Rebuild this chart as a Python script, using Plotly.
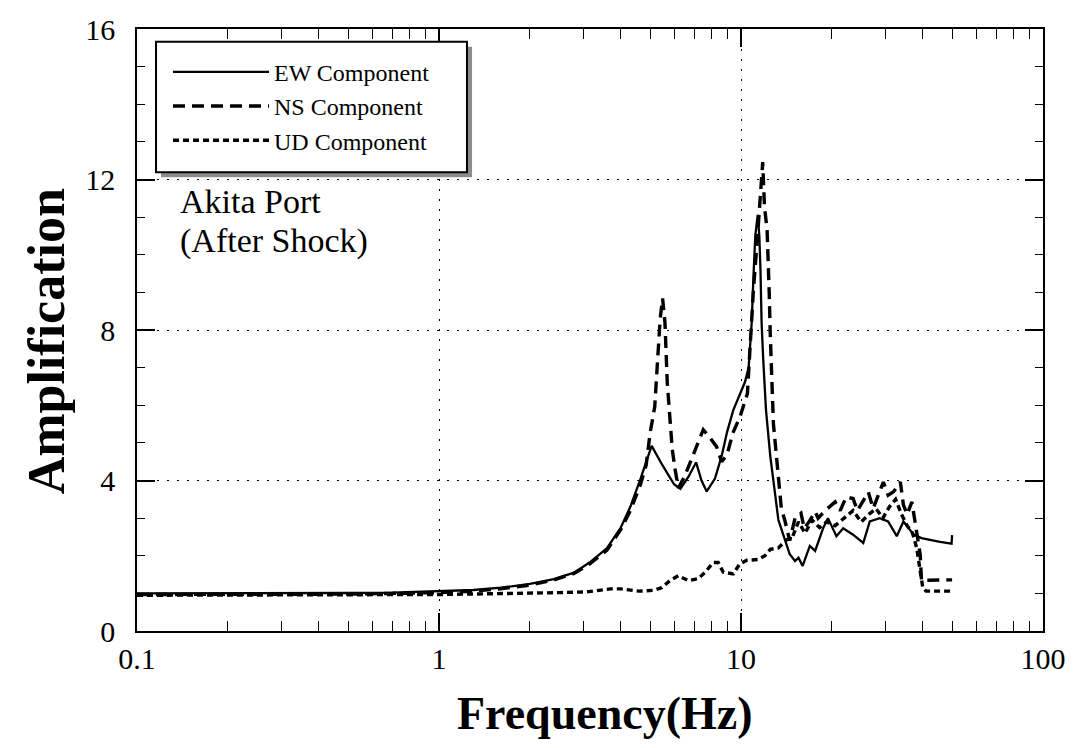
import plotly.graph_objects as go

# ---------------- data ----------------
ew_freq = [0.1, 0.2, 0.3, 0.5, 0.7, 1.0, 1.3, 1.6, 2.0, 2.4, 2.8, 3.15, 3.6, 4.0, 4.3, 4.65,
           5.06, 5.5, 6.0, 6.3, 6.7, 7.1, 7.4, 7.7, 8.2, 8.63, 9.0, 9.43, 10.0, 10.3, 10.6,
           10.85, 11.0, 11.15, 11.36, 11.5, 11.6, 11.7, 11.85, 12.1, 12.5, 12.9, 13.3, 13.8,
           14.5, 15.1, 15.5, 16.0, 16.9, 17.6, 18.7, 19.4, 20.7, 21.8, 23.5, 25.4, 26.7,
           28.8, 30.7, 32.8, 34.5, 37.3, 39.6, 45.6, 49.8, 50.0]
ew_amp = [1.0, 1.0, 1.0, 1.01, 1.02, 1.05, 1.09, 1.15, 1.25, 1.38, 1.55, 1.82, 2.2, 2.75, 3.3, 4.05,
          4.92, 4.4, 3.9, 3.78, 4.1, 4.48, 4.0, 3.71, 4.05, 4.65, 5.3, 5.87, 6.35, 6.61, 7.0,
          8.2, 9.45, 10.5, 11.06, 10.5, 9.6, 8.2, 7.2, 5.87, 4.65, 3.78, 2.95, 2.56,
          2.04, 1.86, 1.95, 1.73, 2.26, 2.13, 2.73, 3.0, 2.52, 2.73, 2.56, 2.34, 2.91,
          3.0, 2.91, 2.52, 2.91, 2.56, 2.47, 2.37, 2.32, 2.55]

ns_freq = [0.1, 0.2, 0.3, 0.5, 0.7, 1.0, 1.3, 1.6, 2.0, 2.4, 2.8, 3.15, 3.6, 4.0, 4.3, 4.65,
           4.85, 5.0, 5.18, 5.3, 5.4, 5.5, 5.6, 5.7, 5.8, 5.92, 6.05, 6.2, 6.5, 6.9, 7.2, 7.5,
           7.9, 8.3, 8.63, 9.0, 9.4, 9.93, 10.5, 10.85, 11.0, 11.3, 11.56, 11.8, 11.96, 12.2,
           12.4, 12.5, 12.8, 13.3, 13.6, 14.0, 14.5, 15.1, 15.8, 16.2, 16.8, 17.6, 18.0, 19.0,
           20.5, 21.3, 22.3, 23.5, 24.3, 26.4, 27.4, 29.6, 30.7, 32.0, 33.7, 34.5, 35.5, 36.8,
           37.5, 38.2, 39.2, 39.6, 41.0, 50.0]
ns_amp = [0.97, 0.97, 0.98, 0.98, 1.0, 1.02, 1.06, 1.12, 1.22, 1.36, 1.53, 1.78, 2.15, 2.7, 3.2, 3.9,
          4.4, 5.26, 5.96, 7.2, 8.3, 8.84, 8.2, 6.6, 5.8, 4.83, 4.3, 3.8, 4.1, 4.6, 5.0, 5.35,
          5.13, 4.9, 4.5, 4.7, 5.26, 5.7, 6.31, 8.4, 9.1, 10.3, 11.36, 12.46, 11.28, 10.67,
          9.0, 7.88, 5.52, 3.96, 3.26, 2.91, 2.4, 3.0, 3.13, 2.73, 2.9, 3.17, 3.0, 3.2,
          3.43, 3.2, 3.56, 3.52, 3.2, 3.69, 3.26, 3.96, 3.61, 3.7, 3.96, 3.35, 3.1, 3.43,
          3.0, 2.65, 2.04, 1.34, 1.35, 1.36]

ud_freq = [0.1, 0.3, 0.6, 1.0, 1.5, 2.0, 2.5, 3.08, 3.7, 4.0, 4.6, 5.13, 5.46, 5.82, 6.2, 6.69,
           7.22, 7.6, 8.1, 8.4, 8.74, 9.43, 9.9, 10.45, 11.4, 12.0, 12.5, 13.3, 14.2, 14.8,
           15.5, 16.3, 17.2, 18.2, 19.2, 20.5, 22.0, 23.5, 25.0, 26.5, 28.0, 29.5, 31.0, 32.5,
           34.0, 35.5, 37.0, 38.2, 39.2, 40.0, 41.0, 50.0]
ud_amp = [0.95, 0.95, 0.96, 0.97, 0.99, 1.0, 1.02, 1.04, 1.12, 1.12, 1.06, 1.08, 1.15, 1.34, 1.47, 1.34,
          1.39, 1.56, 1.82, 1.82, 1.56, 1.52, 1.78, 1.88, 1.9, 2.0, 2.17, 2.21, 2.43, 2.5,
          2.9, 2.6, 2.95, 2.75, 2.9, 2.8, 3.0, 3.2, 2.9, 3.1, 3.25, 3.0, 3.3, 3.5,
          3.1, 2.8, 2.6, 2.2, 1.6, 1.15, 1.06, 1.06]

x_tick_vals = [0.1, 1, 10, 100]
x_tick_text = ["0.1", "1", "10", "100"]
series_names = ["EW Component", "NS Component", "UD Component"]

FONT = "Liberation Serif, Times New Roman, serif"

fig = go.Figure()
fig.add_trace(go.Scatter(x=ew_freq, y=ew_amp, mode="lines", name=series_names[0],
                         line=dict(color="black", width=2.3, dash="solid")))
fig.add_trace(go.Scatter(x=ns_freq, y=ns_amp, mode="lines", name=series_names[1],
                         line=dict(color="black", width=3.4, dash="12px,7px")))
fig.add_trace(go.Scatter(x=ud_freq, y=ud_amp, mode="lines", name=series_names[2],
                         line=dict(color="black", width=3.4, dash="6px,4px")))

minor_x = [m * 10 ** e for e in (-1, 0, 1) for m in range(2, 10)]

fig.update_layout(
    width=1078, height=748,
    margin=dict(l=137, r=35, t=22, b=117),
    paper_bgcolor="white", plot_bgcolor="white",
    font=dict(family=FONT, color="black", size=30),
    showlegend=True,
    legend=dict(x=0.0342, y=(631 - 43) / 609, xanchor="left", yanchor="top",
                bgcolor="rgba(0,0,0,0)", borderwidth=0,
                font=dict(family=FONT, size=24, color="black"),
                itemwidth=96, tracegroupgap=0),
    xaxis=dict(type="log", range=[-1, 2], tickvals=x_tick_vals, ticktext=x_tick_text,
               showline=True, linecolor="black", linewidth=1.5, mirror="allticks",
               ticks="inside", ticklen=18, tickwidth=1.5, tickcolor="black",
               showgrid=True, gridcolor="black", gridwidth=1, griddash="2px,8px",
               tickfont=dict(family=FONT, size=30, color="black"),
               ticklabelstandoff=0,
               minor=dict(tickvals=minor_x, ticks="inside", ticklen=10, tickwidth=1.2,
                          tickcolor="black", showgrid=False),
               zeroline=False),
    yaxis=dict(range=[0, 16], tick0=0, dtick=4,
               showline=True, linecolor="black", linewidth=1.5, mirror="allticks",
               ticks="inside", ticklen=18, tickwidth=1.5, tickcolor="black",
               showgrid=True, gridcolor="black", gridwidth=1, griddash="2px,8px",
               tickfont=dict(family=FONT, size=30, color="black"),
               ticklabelstandoff=14,
               minor=dict(dtick=1, ticks="inside", ticklen=8, tickwidth=1.2,
                          tickcolor="black", showgrid=False),
               zeroline=False),
)

# legend frame with drop shadow
fig.add_shape(type="rect", xref="paper", yref="paper",
              x0=0.0265, x1=0.3698, y0=0.7537, y1=0.9704,
              fillcolor="#8c8c8c", line=dict(width=0), layer="above")
fig.add_shape(type="rect", xref="paper", yref="paper",
              x0=0.021, x1=0.3642, y0=0.7619, y1=0.9787,
              fillcolor="white", line=dict(color="black", width=2), layer="above")

fig.add_annotation(text="Akita Port", xref="paper", yref="paper",
                   x=0.045, y=(631 - 197) / 609, xanchor="left", yanchor="middle", align="left",
                   showarrow=False, font=dict(family=FONT, size=34, color="black"))
fig.add_annotation(text="(After Shock)", xref="paper", yref="paper",
                   x=0.045, y=(631 - 236) / 609, xanchor="left", yanchor="middle", align="left",
                   showarrow=False, font=dict(family=FONT, size=34, color="black"))

fig.add_annotation(text="<b>Frequency(Hz)</b>", xref="paper", yref="paper",
                   x=(605 - 137) / 906, y=(631 - 714) / 609, xanchor="center", yanchor="middle",
                   showarrow=False, font=dict(family=FONT, size=46, color="black"))

fig.add_annotation(text="<b>Amplification</b>", xref="paper", yref="paper",
                   x=(46 - 137) / 906, y=(631 - 338) / 609, xanchor="center", yanchor="middle",
                   showarrow=False, textangle=-90, font=dict(family=FONT, size=52, color="black"))

fig.write_html("out.html")
